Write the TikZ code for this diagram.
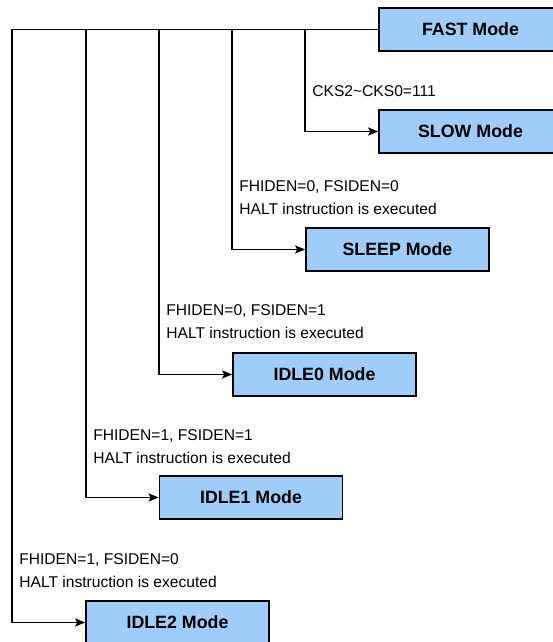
\documentclass[tikz,border=0pt]{standalone}
\usepackage{fontspec}
\setmainfont{Liberation Sans}
\usetikzlibrary{positioning,arrows.meta}
\definecolor{modeblue}{RGB}{160,204,250}

\begin{document}
\begin{tikzpicture}[x=1pt,y=-1pt,
	box/.style={rectangle,draw,line width=1.7pt,fill=modeblue,minimum width=183pt,minimum height=43pt,font=\fontsize{17.8}{20}\selectfont\bfseries},
	conn/.style={line width=1.6pt,-{Stealth[length=10pt,width=8pt,inset=2pt]}},
	lbl/.style={anchor=west,align=left,inner sep=0pt,font=\fontsize{15.6}{23}\selectfont}]
\useasboundingbox (0,0) rectangle (553,642);
\clip (0,0) rectangle (553,642);
\node[box](fast) at (470.5,29.5){FAST Mode};
\node[box](slow) at (470.5,131.5){SLOW Mode};
\node[box](sleep) at (397.5,249.5){SLEEP Mode};
\node[box](idle0) at (324.5,374.5){IDLE0 Mode};
\node[box](idle1) at (251,497.5){IDLE1 Mode};
\node[box](idle2) at (177.5,622.5){IDLE2 Mode};
% branch points on the top line
\coordinate (j1) at ([xshift=-73pt]fast.west);
\coordinate (j2) at ([xshift=-146pt]fast.west);
\coordinate (j3) at ([xshift=-219pt]fast.west);
\coordinate (j4) at ([xshift=-292pt]fast.west);
\coordinate (j5) at ([xshift=-366pt]fast.west);
\draw[line width=1.6pt](fast.west) -- (j5);
\draw[conn](j1) |- (slow.west);
\draw[conn](j2) |- (sleep.west);
\draw[conn](j3) |- (idle0.west);
\draw[conn](j4) |- (idle1.west);
\draw[conn](j5) |- (idle2.west);
% conditions
\node[lbl](cks) at ([xshift=7pt,yshift=40.5pt]j1 |- slow.west){CKS2\textasciitilde CKS0=111};
\node[lbl](c2) at ([xshift=7pt,yshift=52pt]j2 |- sleep.west){FHIDEN=0, FSIDEN=0\\HALT instruction is executed};
\node[lbl](c3) at ([xshift=7pt,yshift=52.5pt]j3 |- idle0.west){FHIDEN=0, FSIDEN=1\\HALT instruction is executed};
\node[lbl](c4) at ([xshift=7pt,yshift=51pt]j4 |- idle1.west){FHIDEN=1, FSIDEN=1\\HALT instruction is executed};
\node[lbl](c5) at ([xshift=7pt,yshift=51.5pt]j5 |- idle2.west){FHIDEN=1, FSIDEN=0\\HALT instruction is executed};
\end{tikzpicture}
\end{document}
